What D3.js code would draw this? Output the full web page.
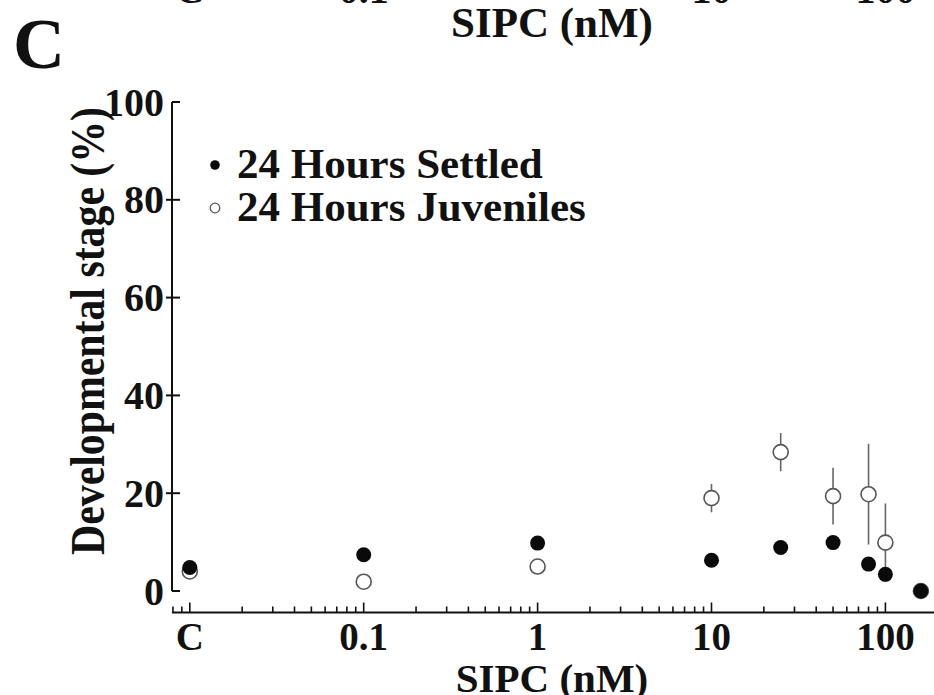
<!DOCTYPE html>
<html><head><meta charset="utf-8">
<script src="https://cdn.jsdelivr.net/npm/d3@7"></script>
<style>
html,body{margin:0;padding:0;background:#fff;}
svg text{font-family:"Liberation Serif","Times New Roman",serif;font-weight:bold;fill:#111;}
</style></head>
<body>
<svg id="chart" width="934" height="695"></svg>
<script>
// ---- data ----
const concentrations = [0.01, 0.1, 1, 10, 25, 50, 80, 100, 160]; // 0.01 = control "C"
const settled   = [4.8, 7.4, 9.8, 6.3, 8.9, 9.9, 5.5, 3.4, 0];
const juveniles = [4.0, 1.9, 5.0, 19.0, 28.4, 19.4, 19.8, 9.9, 0];
const juvErr    = [0, 0.5, 1.4, 2.9, 3.9, 5.8, 10.3, 8.0, 0];
const xTickValues = [0.01, 0.1, 1, 10, 100];
const xTickLabels = ["C", "0.1", "1", "10", "100"];
const prevPanelTickValues = [0.01, 0.1, 10, 100];      // fragments of panel B's labels at top
const prevPanelTickLabels = ["C", "0.1", "10", "100"];
const yTickValues = [0, 20, 40, 60, 80, 100];
const seriesNames = ["24 Hours Settled", "24 Hours Juveniles"];

// ---- chart ----
const svg = d3.select("#chart");
const x = d3.scaleLog().domain([0.0079, 1000]).range([172, 1059.3]);
const y = d3.scaleLinear().domain([0, 100]).range([591, 102]);

// panel letter & fragments of previous panel
svg.append("text").attr("x", 13).attr("y", 68).attr("font-size", 72).text("C");
svg.append("text").attr("x", 552).attr("y", 37).attr("font-size", 43).attr("text-anchor", "middle").text("SIPC (nM)");
svg.selectAll("text.prev").data(prevPanelTickValues).join("text").attr("class", "prev")
  .attr("x", d => x(d)).attr("y", 2.5).attr("font-size", 40).attr("text-anchor", "middle")
  .text((d, i) => prevPanelTickLabels[i]);

// y axis
const yAxisX = 172;
svg.append("line").attr("x1", yAxisX).attr("x2", yAxisX).attr("y1", y(100)).attr("y2", y(0))
  .attr("stroke", "#111").attr("stroke-width", 2);
const yt = svg.selectAll("g.yt").data(yTickValues).join("g").attr("class", "yt")
  .attr("transform", d => `translate(0,${y(d)})`);
yt.append("line").attr("x1", d => (d === 0 || d === 100) ? yAxisX : yAxisX - 6).attr("x2", yAxisX + 8)
  .attr("stroke", "#111").attr("stroke-width", 2);
yt.append("text").attr("x", yAxisX - 8).attr("dy", "0.34em").attr("font-size", 40)
  .attr("text-anchor", "end").text(d => d);

// x axis
const xAxisY = 612.5;
svg.append("line").attr("x1", 172).attr("x2", 934).attr("y1", xAxisY).attr("y2", xAxisY)
  .attr("stroke", "#111").attr("stroke-width", 2);
const allTicks = x.ticks(40).filter(d => d >= 0.008 && x(d) <= 934);
svg.selectAll("line.xt").data(allTicks).join("line").attr("class", "xt")
  .attr("x1", d => x(d)).attr("x2", d => x(d)).attr("y1", xAxisY)
  .attr("y2", d => xTickValues.some(v => Math.abs(v - d) / v < 1e-6) ? xAxisY - 10 : xAxisY - 6)
  .attr("stroke", "#111").attr("stroke-width", 1.6);
svg.selectAll("text.xl").data(xTickValues).join("text").attr("class", "xl")
  .attr("x", d => x(d)).attr("y", 650).attr("font-size", 39).attr("text-anchor", "middle")
  .text((d, i) => xTickLabels[i]);

// axis titles
svg.append("text").attr("x", 552).attr("y", 692).attr("font-size", 41).attr("text-anchor", "middle").text("SIPC (nM)");
svg.append("text").attr("transform", "translate(104,331) rotate(-90)")
  .attr("font-size", 48).attr("text-anchor", "middle")
  .attr("textLength", 448).attr("lengthAdjust", "spacingAndGlyphs")
  .text("Developmental stage (%)");

// data
const juvData = concentrations.map((c, i) => ({c, v: juveniles[i], e: juvErr[i]}));
const setData = concentrations.map((c, i) => ({c, v: settled[i]}));

svg.selectAll("line.err").data(juvData.filter(d => d.e > 0)).join("line").attr("class", "err")
  .attr("x1", d => x(d.c)).attr("x2", d => x(d.c))
  .attr("y1", d => y(d.v + d.e)).attr("y2", d => y(Math.max(0, d.v - d.e)))
  .attr("stroke", "#666").attr("stroke-width", 1.6);
svg.selectAll("circle.juv").data(juvData).join("circle").attr("class", "juv")
  .attr("cx", d => x(d.c)).attr("cy", d => y(d.v)).attr("r", 7.5)
  .attr("fill", "#fff").attr("stroke", "#555").attr("stroke-width", 1.6);
svg.selectAll("circle.set").data(setData).join("circle").attr("class", "set")
  .attr("cx", d => x(d.c)).attr("cy", d => y(d.v)).attr("r", 7.5)
  .attr("fill", "#0a0a0a");

// legend
const leg = svg.append("g");
leg.append("circle").attr("cx", 215).attr("cy", 165).attr("r", 4.8).attr("fill", "#0a0a0a");
leg.append("circle").attr("cx", 215).attr("cy", 208).attr("r", 4.8).attr("fill", "#fff")
  .attr("stroke", "#555").attr("stroke-width", 1.3);
leg.selectAll("text").data(seriesNames).join("text")
  .attr("x", 237).attr("y", (d, i) => 178 + i * 43).attr("font-size", 43).text(d => d);
</script>
</body></html>
